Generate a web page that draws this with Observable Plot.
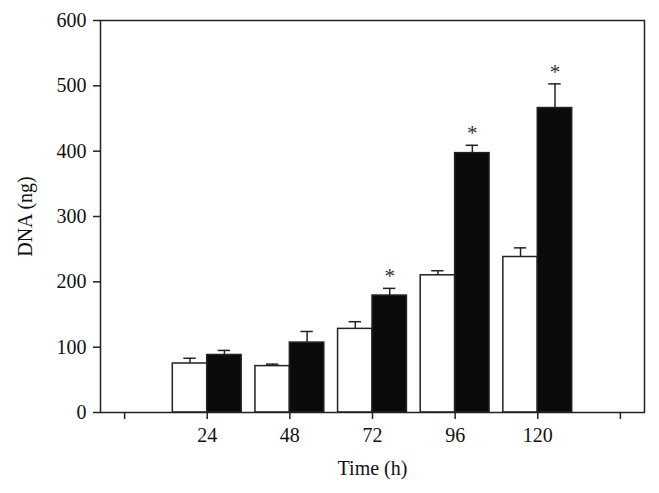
<!DOCTYPE html>
<html><head><meta charset="utf-8">
<script src="https://cdn.jsdelivr.net/npm/d3@7"></script>
<script src="https://cdn.jsdelivr.net/npm/@observablehq/plot@0.6"></script>
<style>body{margin:0;background:#fff;}</style>
</head><body><div id="chart"></div>
<script>
const times = [24, 48, 72, 96, 120];
const controlMean = [75, 71, 128, 210, 238];
const controlErr = [8, 3, 11, 7, 14];
const treatedMean = [88, 107, 179, 397, 466];
const treatedErr = [7, 17, 11, 12, 37];
const significant = [false, false, true, true, true];
const xTicks = [0, 24, 48, 72, 96, 120, 144];
const xTickLabels = ["", "24", "48", "72", "96", "120", ""];
const yTicks = [0, 100, 200, 300, 400, 500, 600];

const barWidth = 10;
const rows = times.flatMap((t, i) => [
  {group: "control", x1: t - barWidth, x2: t, mean: controlMean[i], err: controlErr[i], sig: false},
  {group: "treated", x1: t, x2: t + barWidth, mean: treatedMean[i], err: treatedErr[i], sig: significant[i]}
]);
const cx = d => (d.x1 + d.x2) / 2;
const errTop = d => d.mean + d.err;

const chart = Plot.plot({
  width: 659, height: 493,
  marginLeft: 100, marginRight: 15, marginTop: 20, marginBottom: 81,
  style: {fontFamily: "Liberation Serif", fontSize: "20px", color: "#111", background: "#fff"},
  x: {domain: [-7, 151]},
  y: {domain: [0, 600]},
  marks: [
    Plot.ruleX(rows, {x: cx, y1: "mean", y2: errTop, stroke: "#222", strokeWidth: 1.5}),
    Plot.ruleY(rows, {y: errTop, x1: d => cx(d) - 1.8, x2: d => cx(d) + 1.8, stroke: "#222", strokeWidth: 1.5}),
    Plot.rectY(rows, {x1: "x1", x2: "x2", y1: 0, y2: "mean",
      fill: d => d.group === "control" ? "#fff" : "#0a0c0b", stroke: "#222", strokeWidth: 1.5}),
    Plot.text(rows.filter(d => d.sig), {x: cx, y: errTop, text: () => "*", dy: -12, fontSize: 21, fill: "#333"}),
    Plot.frame({stroke: "#222", strokeWidth: 1.5}),
    Plot.axisX({ticks: xTicks, tickFormat: d => xTickLabels[xTicks.indexOf(d)], tickSize: 7, tickPadding: 8,
      fontSize: 20, label: "Time (h)", labelAnchor: "center", labelArrow: "none", labelOffset: 62, stroke: "#222", strokeWidth: 1.5}),
    Plot.axisY({ticks: yTicks, tickSize: 7, tickPadding: 7,
      fontSize: 20, label: "DNA (ng)", labelAnchor: "center", labelArrow: "none", labelOffset: 83, stroke: "#222", strokeWidth: 1.5})
  ]
});
document.getElementById("chart").appendChild(chart);
</script>
</body></html>
